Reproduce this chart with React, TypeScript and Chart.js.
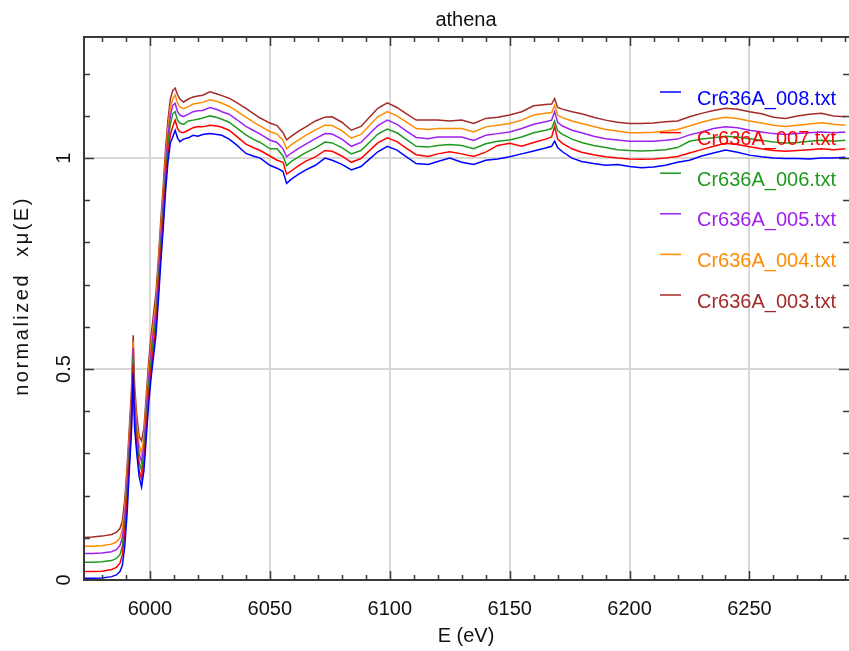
import { useEffect, useRef } from 'react';
import { Chart, registerables } from 'chart.js';

Chart.register(...registerables);

const chartTitle = 'athena';
const xTitle = 'E (eV)';
const yTitle = 'normalized  xμ(E)';

const energy = [
  5972.5, 5976, 5980, 5984, 5986, 5987.5, 5988.5, 5989.5, 5990.5, 5991.5, 5992.3, 5993, 5993.6, 5994.5, 5995.5,
  5996.5, 5997.5, 5998.5, 5999.5, 6000.5, 6001.5, 6002.5, 6003.5, 6004.5, 6005.5, 6006.5, 6007.5, 6008.5, 6009.5,
  6010.5, 6011.5,
  6012.5, 6014, 6016, 6018, 6020, 6022, 6025, 6028, 6030, 6033, 6036, 6040, 6043, 6046, 6050, 6053, 6055.5, 6057,
  6059, 6062, 6065, 6069, 6073, 6076, 6080, 6084, 6088, 6092, 6095, 6099, 6103, 6107, 6111, 6116, 6120, 6125, 6130,
  6135, 6140, 6145, 6150, 6155, 6160, 6165, 6167.5, 6168.75, 6170, 6172, 6176, 6180, 6185, 6190, 6195, 6200, 6205,
  6210, 6215, 6220, 6225, 6230, 6235, 6240, 6245, 6250, 6255, 6260, 6265, 6270, 6275, 6280, 6285, 6290,
];

const mu008 = [
  0.004, 0.004, 0.005, 0.008, 0.012, 0.02, 0.035, 0.08, 0.16, 0.27, 0.35, 0.49, 0.36, 0.30, 0.245, 0.22, 0.26, 0.34,
  0.42, 0.48, 0.53, 0.58, 0.66, 0.75, 0.83, 0.92, 0.99, 1.035, 1.05, 1.066, 1.048,
  1.039, 1.045, 1.048, 1.054, 1.052, 1.056, 1.058, 1.056, 1.054, 1.045, 1.032, 1.011, 1.005, 1.0, 0.983, 0.976, 0.968,
  0.94, 0.95, 0.962, 0.972, 0.983, 1.0, 0.995, 0.985, 0.972, 0.98, 1.0, 1.015, 1.028, 1.019, 1.003, 0.987, 0.985,
  0.992, 1.0, 0.99, 0.985, 0.995, 0.998, 1.003, 1.01, 1.017, 1.024, 1.028, 1.04, 1.025, 1.015, 1.0, 0.992, 0.987,
  0.983, 0.985, 0.98, 0.977, 0.979, 0.983, 0.99, 0.995, 1.005, 1.012, 1.019, 1.014, 1.007, 1.003, 1.0, 0.999, 0.999,
  0.998, 1.0, 1.0, 1.002,
];

const mu007 = [
  0.02, 0.02, 0.021, 0.025, 0.03, 0.04, 0.06, 0.11, 0.19, 0.29, 0.37, 0.51, 0.38, 0.315, 0.26, 0.24, 0.28, 0.36, 0.44,
  0.50, 0.55, 0.60, 0.68, 0.77, 0.85, 0.94, 1.01, 1.055, 1.075, 1.09, 1.07,
  1.062, 1.06, 1.066, 1.072, 1.075, 1.074, 1.078, 1.076, 1.073, 1.066, 1.052, 1.033, 1.025, 1.018, 1.005, 0.995, 0.99,
  0.962, 0.97, 0.982, 0.993, 1.003, 1.018, 1.016, 1.005, 0.99, 0.999, 1.02, 1.036, 1.048, 1.039, 1.023, 1.008, 1.004,
  1.01, 1.015, 1.01, 1.004, 1.014, 1.03, 1.035, 1.028, 1.037, 1.045, 1.05, 1.075, 1.045, 1.035, 1.022, 1.014, 1.008,
  1.003, 1.0, 0.998, 0.997, 0.998, 1.0, 1.004, 1.012, 1.02, 1.028, 1.035, 1.032, 1.027, 1.022, 1.018, 1.016, 1.018,
  1.02, 1.022, 1.02, 1.022,
];

const mu006 = [
  0.042, 0.042, 0.043, 0.046, 0.051, 0.06, 0.08, 0.13, 0.21, 0.31, 0.39, 0.53, 0.40, 0.33, 0.28, 0.26, 0.30, 0.38,
  0.46, 0.52, 0.57, 0.62, 0.70, 0.79, 0.87, 0.96, 1.03, 1.08, 1.105, 1.11, 1.09,
  1.083, 1.08, 1.088, 1.09, 1.092, 1.095, 1.1, 1.096, 1.092, 1.085, 1.072, 1.055, 1.045, 1.037, 1.022, 1.022, 1.005,
  0.982, 0.992, 1.003, 1.013, 1.024, 1.038, 1.036, 1.025, 1.01, 1.018, 1.04, 1.057, 1.069, 1.06, 1.044, 1.028, 1.026,
  1.03, 1.032, 1.03, 1.022, 1.034, 1.04, 1.043, 1.05, 1.06, 1.066, 1.07, 1.088, 1.065, 1.056, 1.045, 1.037, 1.03,
  1.025, 1.02, 1.018, 1.017, 1.018, 1.02, 1.025, 1.04, 1.045, 1.048, 1.052, 1.05, 1.046, 1.042, 1.038, 1.036, 1.037,
  1.04, 1.042, 1.04, 1.042,
];

const mu005 = [
  0.063, 0.063, 0.064, 0.067, 0.072, 0.082, 0.10, 0.15, 0.23, 0.33, 0.41, 0.55, 0.42, 0.35, 0.30, 0.28, 0.32, 0.40,
  0.48, 0.54, 0.59, 0.64, 0.72, 0.81, 0.89, 0.98, 1.05, 1.10, 1.125, 1.13, 1.11,
  1.102, 1.098, 1.104, 1.11, 1.112, 1.113, 1.12, 1.115, 1.11, 1.104, 1.092, 1.075, 1.066, 1.057, 1.043, 1.037, 1.022,
  1.003, 1.012, 1.023, 1.033, 1.046, 1.058, 1.057, 1.045, 1.028, 1.037, 1.06, 1.077, 1.09, 1.08, 1.064, 1.049, 1.046,
  1.05, 1.05, 1.05, 1.042, 1.054, 1.058, 1.062, 1.07, 1.08, 1.086, 1.09, 1.11, 1.085, 1.076, 1.066, 1.06, 1.052,
  1.046, 1.043, 1.04, 1.04, 1.04, 1.042, 1.045, 1.055, 1.062, 1.07, 1.074, 1.072, 1.066, 1.062, 1.058, 1.056, 1.058,
  1.06, 1.062, 1.06, 1.062,
];

const mu004 = [
  0.08, 0.08, 0.081, 0.085, 0.09, 0.10, 0.12, 0.17, 0.25, 0.35, 0.43, 0.565, 0.44, 0.37, 0.32, 0.30, 0.34, 0.42, 0.50,
  0.56, 0.61, 0.66, 0.74, 0.83, 0.91, 1.0, 1.07, 1.12, 1.14, 1.15, 1.13,
  1.121, 1.117, 1.122, 1.128, 1.13, 1.132, 1.138, 1.134, 1.13, 1.123, 1.112, 1.097, 1.086, 1.076, 1.063, 1.057, 1.042,
  1.022, 1.032, 1.043, 1.054, 1.067, 1.078, 1.077, 1.065, 1.047, 1.056, 1.08, 1.098, 1.11, 1.1, 1.085, 1.07, 1.068,
  1.07, 1.07, 1.07, 1.062, 1.074, 1.078, 1.082, 1.09, 1.102, 1.106, 1.108, 1.125, 1.102, 1.096, 1.088, 1.082, 1.075,
  1.068, 1.064, 1.06, 1.06, 1.061, 1.064, 1.068, 1.076, 1.085, 1.092, 1.097, 1.094, 1.088, 1.083, 1.078, 1.075, 1.078,
  1.081, 1.084, 1.08, 1.078,
];

const mu003 = [
  0.101, 0.102, 0.104, 0.108, 0.113, 0.122, 0.14, 0.19, 0.27, 0.37, 0.45, 0.58, 0.46, 0.39, 0.34, 0.33, 0.36, 0.44,
  0.52, 0.58, 0.63, 0.68, 0.76, 0.85, 0.93, 1.02, 1.09, 1.14, 1.16, 1.166, 1.15,
  1.14, 1.133, 1.14, 1.145, 1.147, 1.149, 1.157, 1.152, 1.148, 1.142, 1.132, 1.118, 1.106, 1.095, 1.083, 1.077, 1.06,
  1.043, 1.052, 1.064, 1.074, 1.088, 1.097, 1.098, 1.085, 1.066, 1.075, 1.1, 1.118, 1.131, 1.12, 1.105, 1.09, 1.09,
  1.09, 1.088, 1.09, 1.082, 1.094, 1.097, 1.102, 1.11, 1.124, 1.127, 1.128, 1.141, 1.12, 1.116, 1.11, 1.105, 1.097,
  1.09, 1.085, 1.082, 1.082, 1.083, 1.086, 1.088, 1.098, 1.106, 1.113, 1.118, 1.116, 1.11, 1.105, 1.097, 1.094, 1.1,
  1.104, 1.106, 1.1, 1.098,
];

const seriesNames = ['Cr636A_008.txt', 'Cr636A_007.txt', 'Cr636A_006.txt', 'Cr636A_005.txt', 'Cr636A_004.txt', 'Cr636A_003.txt'];
const seriesValues = [mu008, mu007, mu006, mu005, mu004, mu003];
const seriesColors = ['#0000ff', '#ff0000', '#1f9a1f', '#a020f0', '#ff8c00', '#a52a2a'];

const xMin = 5972.5;
const xMax = 6291.5;
const yMin = 0;
const yMax = 1.287;
const xMajorTicks = [6000, 6050, 6100, 6150, 6200, 6250];
const xTickLabels = ['6000', '6050', '6100', '6150', '6200', '6250'];
const yMajorTicks = [0, 0.5, 1];
const yTickLabels = ['0', '0.5', '1'];
const xMinorStep = 10;
const yMinorStep = 0.1;

const FONT = '"Liberation Sans", Arial, sans-serif';

const axesPlugin = {
  id: 'xasAxes',
  beforeDatasetsDraw(chart: any) {
    const { ctx, chartArea: a, scales } = chart;
    const x = scales.x;
    const y = scales.y;
    ctx.save();
    ctx.strokeStyle = '#d8d8d8';
    ctx.lineWidth = 2;
    for (const v of xMajorTicks) {
      const px = Math.round(x.getPixelForValue(v));
      ctx.beginPath();
      ctx.moveTo(px, a.top);
      ctx.lineTo(px, a.bottom);
      ctx.stroke();
    }
    for (const v of yMajorTicks) {
      if (v === 0) continue;
      const py = Math.round(y.getPixelForValue(v));
      ctx.beginPath();
      ctx.moveTo(a.left, py);
      ctx.lineTo(a.right, py);
      ctx.stroke();
    }
    ctx.restore();
  },
  afterDatasetsDraw(chart: any) {
    const { ctx, chartArea: a, scales } = chart;
    const x = scales.x;
    const y = scales.y;
    ctx.save();
    // frame (right side falls on the canvas edge)
    ctx.strokeStyle = '#3a3a3a';
    ctx.lineWidth = 2;
    ctx.beginPath();
    ctx.moveTo(a.right + 2, a.top);
    ctx.lineTo(a.left, a.top);
    ctx.lineTo(a.left, a.bottom);
    ctx.lineTo(a.right + 2, a.bottom);
    ctx.stroke();
    // ticks
    ctx.lineWidth = 1.5;
    const isMajorX = (v: number) => xMajorTicks.some((m) => Math.abs(m - v) < 1e-6);
    const isMajorY = (v: number) => yMajorTicks.some((m) => Math.abs(m - v) < 1e-6);
    const startX = Math.ceil(xMin / xMinorStep) * xMinorStep;
    for (let v = startX; v <= xMax; v += xMinorStep) {
      const px = Math.round(x.getPixelForValue(v)) + 0.5;
      const len = isMajorX(v) ? 9 : 5;
      ctx.beginPath();
      ctx.moveTo(px, a.bottom);
      ctx.lineTo(px, a.bottom - len);
      ctx.moveTo(px, a.top);
      ctx.lineTo(px, a.top + len);
      ctx.stroke();
    }
    for (let i = 1; i * yMinorStep <= yMax; i++) {
      const v = Math.round(i * yMinorStep * 10) / 10;
      const py = Math.round(y.getPixelForValue(v)) + 0.5;
      const len = isMajorY(v) ? 10 : 6;
      ctx.beginPath();
      ctx.moveTo(a.left, py);
      ctx.lineTo(a.left + len, py);
      ctx.moveTo(a.right, py);
      ctx.lineTo(a.right - len, py);
      ctx.stroke();
    }
    // tick labels
    ctx.fillStyle = '#111';
    ctx.font = `20px ${FONT}`;
    ctx.textAlign = 'center';
    ctx.textBaseline = 'middle';
    xMajorTicks.forEach((v, i) => {
      ctx.fillText(xTickLabels[i], x.getPixelForValue(v), a.bottom + 29);
    });
    yMajorTicks.forEach((v, i) => {
      ctx.save();
      ctx.translate(a.left - 20, y.getPixelForValue(v));
      ctx.rotate(-Math.PI / 2);
      ctx.fillText(yTickLabels[i], 0, 0);
      ctx.restore();
    });
    // titles
    ctx.fillText(chartTitle, 466, 20);
    ctx.fillText(xTitle, 466, a.bottom + 56);
    ctx.save();
    ctx.translate(22, 296);
    ctx.rotate(-Math.PI / 2);
    (ctx as any).letterSpacing = '2.5px';
    ctx.fillText(yTitle, 0, 0);
    ctx.restore();
    // legend
    ctx.textAlign = 'left';
    ctx.textBaseline = 'alphabetic';
    seriesNames.forEach((name, i) => {
      const ly = a.top + 55 + i * 40.6;
      ctx.strokeStyle = seriesColors[i];
      ctx.lineWidth = 1.5;
      ctx.beginPath();
      ctx.moveTo(660, ly);
      ctx.lineTo(681, ly);
      ctx.stroke();
      ctx.fillStyle = seriesColors[i];
      ctx.fillText(name, 697, ly + 12.5);
    });
    ctx.restore();
  },
};

export default function App() {
  const canvasRef = useRef<HTMLCanvasElement | null>(null);

  useEffect(() => {
    document.body.style.margin = '0';
    const canvas = canvasRef.current;
    if (!canvas) return;
    const datasets = seriesValues.map((vals, i) => ({
      label: seriesNames[i],
      data: energy.map((e, j) => ({ x: e, y: vals[j] })),
      borderColor: seriesColors[i],
      backgroundColor: seriesColors[i],
      borderWidth: 1.5,
      pointRadius: 0,
      tension: 0,
      fill: false,
    }));
    const chart = new Chart(canvas, {
      type: 'line',
      data: { datasets },
      options: {
        animation: false,
        responsive: false,
        devicePixelRatio: 1,
        layout: { padding: { left: 84, right: 0, top: 37, bottom: 71 } },
        plugins: { legend: { display: false }, tooltip: { enabled: false }, title: { display: false } },
        scales: {
          x: { type: 'linear', min: xMin, max: xMax, display: false },
          y: { type: 'linear', min: yMin, max: yMax, display: false },
        },
      },
      plugins: [axesPlugin],
    });
    return () => chart.destroy();
  }, []);

  return (
    <div style={{ width: 849, height: 651, background: '#fff' }}>
      <canvas ref={canvasRef} width={849} height={651} style={{ display: 'block' }} />
    </div>
  );
}
